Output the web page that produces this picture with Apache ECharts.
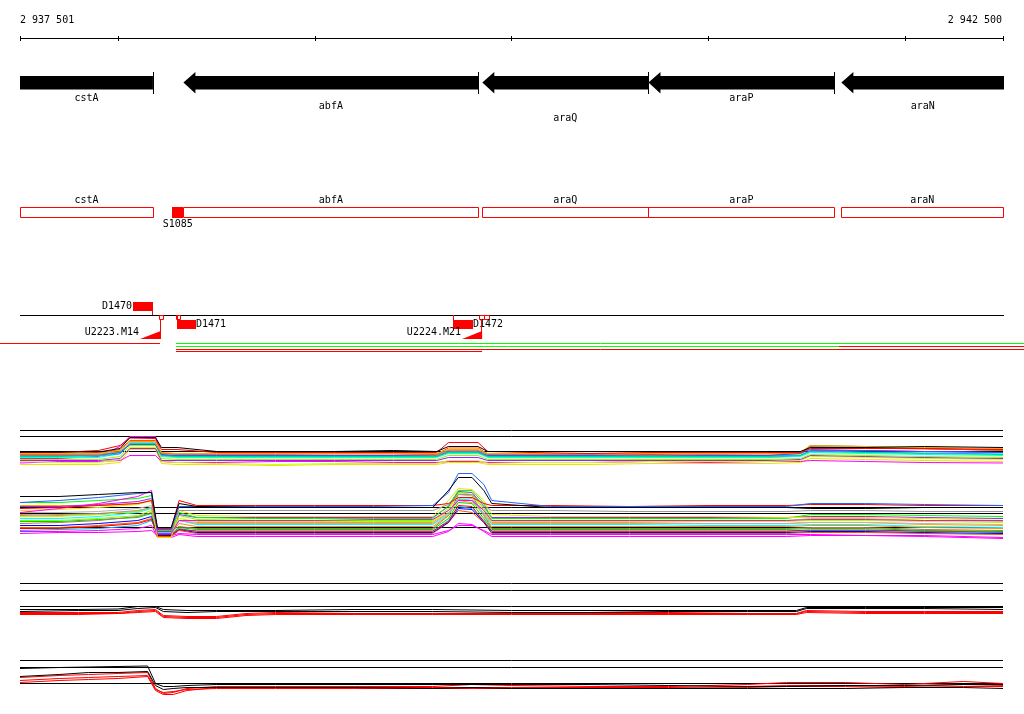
<!DOCTYPE html>
<html><head><meta charset="utf-8">
<script src="https://cdn.jsdelivr.net/npm/echarts@6/dist/echarts.min.js"></script>
<style>html,body{margin:0;padding:0;background:#fff}#c{width:1024px;height:714px}</style>
</head><body><div id="c"></div><script>
// ---------- data ----------
const X_START = 2937501, X_END = 2942500;
const rulerTicks = [2937501, 2938000, 2939000, 2940000, 2941000, 2942000, 2942500];
const rulerLabels = ['2 937 501', '2 942 500'];

const geneNames  = ['cstA', 'abfA', 'araQ', 'araP', 'araN'];
const geneStarts = [2936800, 2938332, 2939852, 2940697, 2941678];
const geneEnds   = [2938177, 2939832, 2940696, 2941642, 2943300];
const geneLabelLane = [0, 1, 2, 0, 1];

const siteNames  = ['S1085'];
const siteStarts = [2938274];
const siteEnds   = [2938332];

const featNames  = ['D1470', 'D1471', 'D1472'];
const featStarts = [2938076, 2938299, 2939705];
const featEnds   = [2938177, 2938398, 2939806];
const featSide   = ['up', 'down', 'down'];

const termNames  = ['U2223.M14', 'U2224.M21'];
const termStarts = [2938111, 2939749];
const termEnds   = [2938217, 2939851];

const probeStarts = [2938209, 2938294, 2939837, 2939861];
const probeEnds   = [2938230, 2938316, 2939861, 2939885];

const tuStarts = [2937380, 2938294, 2938294, 2941666, 2938294, 2938294];
const tuEnds   = [2938213, 2942650, 2941666, 2942650, 2942650, 2939851];
const tuRow    = [0, 0, 1, 1, 2, 3];
const tuKind   = ['r', 'g', 'g', 'r', 'r', 'r'];

// expression panel A
const posA = [2937501, 2937700, 2937900, 2938010, 2938060, 2938190, 2938220, 2938300, 2938500, 2938800, 2939100, 2939400, 2939620, 2939680, 2939830, 2939880, 2940100, 2940400, 2940700, 2941000, 2941300, 2941470, 2941520, 2941800, 2942100, 2942500];
const refA = [9.0, 7.8, 4.8];
const A1 = [4.7,4.7,4.7,5.4,7.6,7.6,5.6,5.6,4.8,4.8,4.8,5.0,4.8,5.8,5.8,4.8,4.8,4.8,4.8,4.8,4.8,4.8,5.6,5.6,5.8,5.6];
const A2 = [4.6,4.6,5.0,6.0,7.5,7.4,5.2,5.2,4.6,4.6,4.6,4.6,4.6,6.6,6.6,4.8,4.6,4.4,4.6,4.6,4.6,4.6,5.4,5.4,5.4,5.2];
const A3 = [3.4,3.4,3.8,5.8,7.8,7.8,4.0,3.8,3.6,3.6,3.8,3.8,3.8,4.6,4.6,3.8,3.6,3.6,3.6,3.6,3.6,4.0,5.0,5.0,4.8,4.6];
const A4 = [2.5,2.8,2.8,3.0,4.0,4.0,2.8,2.6,2.6,2.8,2.8,2.6,2.6,2.8,2.8,2.6,2.6,2.6,2.8,2.6,2.8,2.8,3.0,2.8,2.6,2.5];
const A5 = [4.4,4.4,4.4,5.0,6.8,6.8,4.6,4.4,4.4,4.4,4.4,4.4,4.4,5.2,5.2,4.4,4.4,4.4,4.4,4.4,4.4,4.6,6.0,5.8,5.6,5.4];
const A6 = [4.2,4.2,4.2,4.8,6.4,6.4,4.4,4.2,4.2,4.2,4.4,4.4,4.2,5.0,5.0,4.2,4.2,4.2,4.4,4.2,4.4,4.6,5.8,5.6,5.4,5.0];
const A7 = [4.6,4.4,4.2,4.6,6.2,6.2,4.2,4.0,4.0,4.0,4.0,4.0,4.2,5.0,5.0,4.0,4.0,4.0,4.2,4.0,4.0,4.4,5.2,5.0,4.8,4.6];
const A8 = [3.6,3.6,3.6,4.4,6.6,6.6,3.8,3.6,3.6,3.6,3.6,3.6,3.6,4.4,4.4,3.6,3.6,3.6,3.6,3.6,3.6,3.8,4.6,4.4,4.2,4.0];
const A9 = [3.8,3.8,4.0,4.6,6.4,6.2,4.0,3.8,3.8,3.8,3.8,3.8,3.8,4.6,4.6,3.8,3.8,3.8,3.8,3.8,3.8,4.0,4.8,4.6,4.4,4.2];
const A10 = [2.8,2.6,2.6,3.2,5.6,5.6,2.8,2.6,2.4,2.2,2.4,2.4,2.4,3.0,3.0,2.4,2.6,2.6,2.8,2.8,2.8,3.0,3.8,3.6,3.4,3.2];
const A11 = [3.2,3.2,3.2,3.8,6.0,6.0,3.4,3.2,3.2,3.2,3.2,3.2,3.2,4.0,4.0,3.2,3.2,3.2,3.2,3.2,3.2,3.4,4.2,4.0,3.8,3.6];
const A12 = [4.0,4.0,4.0,4.6,6.2,6.2,4.2,4.0,4.0,4.0,4.0,4.0,4.0,4.8,4.8,4.0,4.0,4.0,4.0,4.0,4.0,4.4,6.0,5.8,5.4,5.0];
const A13 = [2.2,2.2,2.2,2.6,5.2,5.2,2.4,2.2,2.2,2.0,2.2,2.2,2.2,2.6,2.6,2.2,2.2,2.2,2.4,2.4,2.4,2.6,3.4,3.2,3.0,2.8];
const A14 = [3.0,3.0,3.0,3.4,5.4,5.4,3.0,3.0,3.0,3.0,3.0,3.0,3.0,3.6,3.6,3.0,3.0,3.0,3.0,3.0,3.0,3.2,4.0,3.8,3.6,3.4];
const A15 = [3.9,3.9,3.9,4.3,6.3,6.3,4.1,3.9,3.9,3.9,3.9,3.9,3.9,4.7,4.7,3.9,3.9,3.9,3.9,3.9,3.9,4.1,4.9,4.7,4.5,4.3];
const A16 = [4.3,4.3,4.5,5.2,7.0,7.0,4.5,4.3,4.3,4.3,4.3,4.3,4.3,5.5,5.5,4.3,4.3,4.3,4.3,4.3,4.3,4.5,5.7,5.5,5.3,5.1];

// expression panel B
const posB = [2937501, 2937700, 2937900, 2938100, 2938170, 2938200, 2938270, 2938310, 2938400, 2938700, 2939000, 2939300, 2939600, 2939680, 2939730, 2939800, 2939860, 2939900, 2940200, 2940600, 2941000, 2941400, 2941520, 2941800, 2942100, 2942500];
const refB = [7.6, 6.4, 3.6];
const B1 = [9.8,9.8,10.2,10.6,10.6,3.6,3.6,8.4,7.8,7.6,7.6,7.6,7.6,11.0,13.6,13.6,11.0,8.4,7.6,7.6,7.6,7.6,7.4,7.4,7.6,7.6];
const B2 = [8.6,9.0,9.6,10.4,10.6,3.2,3.2,7.8,7.8,7.8,7.8,7.8,8.0,10.6,14.4,14.4,12.2,9.0,7.8,7.8,7.8,7.8,8.4,8.4,8.2,8.0];
const B3 = [7.4,7.6,8.0,8.4,9.0,3.4,3.4,9.0,8.0,8.0,8.0,8.0,8.0,8.4,9.6,9.6,8.4,8.0,8.0,7.8,8.0,8.0,8.2,8.2,8.0,8.0];
const B4 = [6.6,7.4,8.4,9.8,11.0,2.4,2.4,5.0,5.0,5.0,5.0,5.2,5.2,7.0,9.0,9.0,7.0,5.0,5.0,5.0,5.0,5.0,5.2,5.2,5.0,5.0];
const B5 = [2.4,2.6,2.6,2.8,3.0,2.0,2.0,2.4,2.2,2.2,2.2,2.2,2.2,3.0,4.0,4.0,3.0,2.2,2.2,2.2,2.2,2.2,2.2,2.0,2.0,1.6];
const B6 = [8.6,8.6,9.0,9.4,10.0,3.0,3.0,6.6,5.6,5.4,5.4,5.4,5.4,8.0,11.0,11.0,8.4,5.4,5.4,5.4,5.4,5.4,6.2,6.2,6.0,5.8];
const B7 = [7.0,7.2,7.6,8.2,9.0,1.6,1.6,7.0,6.0,5.8,5.8,5.8,5.8,9.0,11.4,11.2,9.0,6.2,5.8,5.8,5.8,5.6,5.6,5.6,5.4,5.0];
const B8 = [8.0,8.0,8.0,8.4,9.0,2.8,2.8,5.0,4.6,4.6,4.6,4.6,4.6,6.6,9.0,8.6,6.6,4.6,4.6,4.6,4.4,4.4,4.6,4.6,4.2,4.0];
const B9 = [6.0,6.2,6.4,7.0,7.6,3.2,3.2,7.0,7.0,7.0,7.0,7.0,7.0,8.2,10.2,10.2,8.0,7.0,7.0,6.8,6.8,6.8,7.0,7.0,6.8,6.8];
const B10 = [5.4,5.4,5.8,6.6,7.4,2.6,2.6,5.0,4.2,4.2,4.2,4.2,4.2,6.2,9.4,9.0,6.2,4.2,4.2,4.2,4.0,4.0,4.2,4.2,3.8,3.6];
const B11 = [4.4,4.6,5.0,5.8,6.6,3.0,3.0,3.8,3.4,3.4,3.4,3.4,3.4,6.0,10.2,10.0,6.0,3.4,3.4,3.4,3.4,3.4,3.6,3.6,3.2,3.0];
const B12 = [5.0,5.0,5.4,6.0,7.0,2.4,2.4,6.0,5.2,5.0,5.0,5.0,5.0,7.4,10.6,10.2,7.4,5.0,5.0,5.0,5.0,5.0,5.4,5.4,5.0,4.8];
const B13 = [3.0,3.2,3.4,4.0,5.0,2.2,2.2,3.4,2.8,2.8,2.8,2.8,2.8,5.0,7.8,7.4,5.0,2.8,2.8,2.8,2.8,2.8,3.0,3.0,2.8,2.6];
const B14 = [3.6,3.6,4.0,4.6,5.4,1.8,1.8,3.0,2.4,2.4,2.4,2.4,2.4,4.6,7.0,6.6,4.6,2.4,2.4,2.4,2.4,2.4,2.6,2.6,2.4,2.2];
const B15 = [7.8,7.8,8.2,8.8,9.4,2.8,2.8,6.2,5.6,5.6,5.6,5.6,5.6,7.8,10.8,10.6,7.8,5.6,5.6,5.6,5.6,5.6,5.8,5.8,5.6,5.4];
const B16 = [6.2,6.0,6.2,6.8,7.6,2.6,2.6,4.4,3.8,3.8,3.8,3.8,3.8,6.0,9.2,9.0,6.0,3.8,3.8,3.8,3.8,3.8,4.0,4.0,3.6,3.4];
const B17 = [4.8,4.8,5.2,5.6,6.4,2.4,2.4,3.6,3.2,3.2,3.2,3.2,3.2,5.4,8.6,8.4,5.4,3.2,3.2,3.2,3.2,3.2,3.4,3.4,3.0,2.8];
const B18 = [4.0,4.0,4.4,5.0,5.8,2.0,2.0,3.2,2.6,2.6,2.6,2.6,2.6,4.6,7.4,7.2,4.6,2.6,2.6,2.6,2.6,2.6,2.8,2.8,2.6,2.4];
const B19 = [6.6,6.6,6.8,7.4,8.0,3.0,3.0,5.0,4.4,4.4,4.4,4.4,4.4,6.4,9.6,9.4,6.4,4.4,4.4,4.4,4.4,4.4,4.6,4.6,4.4,4.2];
const B20 = [5.8,5.8,6.2,6.8,7.6,2.8,2.8,5.4,4.8,4.8,4.8,4.8,4.8,7.0,10.4,10.0,7.0,4.8,4.8,4.8,4.8,4.8,5.0,5.0,4.8,4.6];
const B21 = [2.8,2.8,3.0,3.4,4.0,1.6,1.6,2.2,1.8,1.8,1.8,1.8,1.8,2.8,4.4,4.2,2.8,1.8,1.8,1.8,1.8,1.8,2.0,2.0,1.8,1.4];
const B22 = [3.4,3.4,3.8,4.4,5.2,2.2,2.2,3.2,2.9,2.9,2.9,2.9,2.9,4.8,8.0,7.8,4.8,2.9,2.9,2.9,2.9,2.9,3.1,3.1,2.9,2.7];

// expression panel C
const posC = [2937501, 2937800, 2938000, 2938100, 2938190, 2938230, 2938350, 2938500, 2938650, 2938800, 2939200, 2939600, 2940000, 2940400, 2940800, 2941200, 2941450, 2941500, 2941800, 2942100, 2942500];
const refC = [8.4, 7.0, 3.8];
const C1 = [3.2,3.2,3.3,3.8,3.8,3.2,3.0,3.0,3.0,3.0,3.2,3.2,3.0,3.0,3.0,3.0,3.0,3.6,3.6,3.6,3.6];
const C2 = [2.8,3.0,3.0,3.4,3.6,2.8,2.6,2.8,2.8,2.8,2.8,2.8,2.6,2.6,2.8,2.8,2.8,3.4,3.4,3.4,3.2];
const C3 = [2.6,2.6,2.6,3.0,3.2,2.0,1.8,1.8,2.4,2.6,2.4,2.4,2.4,2.6,2.6,2.4,2.4,3.0,2.8,2.8,2.8];
const C4 = [2.2,2.2,2.4,2.6,2.8,1.6,1.4,1.4,2.0,2.2,2.2,2.2,2.2,2.2,2.2,2.2,2.2,2.6,2.4,2.4,2.4];
const C5 = [2.4,2.4,2.4,2.8,3.0,1.8,1.6,1.6,2.2,2.4,2.4,2.4,2.4,2.4,2.4,2.4,2.4,2.8,2.6,2.6,2.6];

// expression panel D
const posD = [2937501, 2937700, 2937850, 2938000, 2938150, 2938190, 2938230, 2938280, 2938350, 2938500, 2938800, 2939200, 2939600, 2939800, 2940000, 2940400, 2940800, 2941200, 2941400, 2941700, 2942000, 2942300, 2942500];
const refD = [8.0, 6.6, 3.4];
const D1 = [6.4,6.6,6.7,6.8,6.9,3.4,2.8,2.8,3.0,3.2,3.2,3.2,3.2,3.2,3.2,3.2,3.0,2.8,2.8,3.0,3.0,3.2,3.2];
const D2 = [4.8,5.2,5.6,5.6,5.8,3.0,2.2,2.4,2.6,2.6,2.6,2.6,2.4,2.6,2.4,2.4,2.4,2.4,2.4,2.4,2.6,2.6,2.4];
const D3 = [4.6,5.0,5.2,5.4,5.6,2.4,1.4,1.6,2.4,2.8,2.8,2.8,2.8,3.2,3.0,2.8,2.8,3.2,3.6,3.6,3.2,3.8,3.4];
const D4 = [3.6,4.0,4.2,4.4,4.8,2.0,1.2,1.2,2.0,2.6,2.6,2.6,2.6,2.6,2.6,2.6,2.6,2.8,3.0,3.0,2.8,3.2,3.0];
const D5 = [4.0,4.4,4.6,4.8,5.0,2.2,1.6,1.8,2.2,2.4,2.4,2.4,2.4,2.4,2.4,2.4,2.4,2.6,2.8,2.8,2.6,2.8,2.8];

// ---------- layout / style ----------
const BP_PER_PX = (X_END - X_START) / 983;
const AX_MIN = X_START - 20 * BP_PER_PX, AX_MAX = X_END + 21 * BP_PER_PX;
const FONT = '10px "DejaVu Sans Mono", monospace';
const RED = '#ff0000', GREEN = '#00ff00';
const C = {black:'#000000', red:'#ff0000', magenta:'#ff00ff', orange:'#ffa500', gray:'#999999', blue:'#1e64ff',
  cyan:'#00ffff', green:'#00ff00', yg:'#d2ff00', lime:'#7fff00', brown:'#a0785a', yellow:'#e6e600', sky:'#00b4ff',
  orred:'#ff5000', purple:'#a020f0', orange2:'#ff8c00', green2:'#00d200', blue2:'#0000ff', gray2:'#b4b4b4', lime2:'#b0ff00'};

function X(api, bp) { return api.coord([bp, 0])[0]; }
function crisp(v) { return Math.round(v) + 0.5; }
function txt(text, x, y, align) {
  return {type:'text', x:x, y:y, style:{text:text, font:FONT, fill:'#000', align:align || 'center', verticalAlign:'middle'}};
}
function hline(x1, x2, y, color) {
  return {type:'line', shape:{x1:x1, y1:y, x2:x2, y2:y}, style:{stroke:color, lineWidth:1}};
}
function vline(x, y1, y2, color) {
  return {type:'line', shape:{x1:x, y1:y1, x2:x, y2:y2}, style:{stroke:color, lineWidth:1}};
}
function custom(data, renderItem) {
  return {type:'custom', xAxisIndex:0, yAxisIndex:0, data:data, encode:{x:[0,1], y:2}, clip:false, silent:true, renderItem:renderItem};
}

const series = [];

// ruler
series.push(custom([[X_START, X_END, 0]], function (p, api) {
  const L = X(api, X_START), R = X(api, X_END);
  const ch = [hline(L, R + 1, 38.5, '#000')];
  rulerTicks.forEach(t => { const x = crisp(X(api, t)); ch.push(vline(Math.min(x, crisp(R)), 36, 41, '#000')); });
  ch.push(txt(rulerLabels[0], L, 20, 'left'));
  ch.push(txt(rulerLabels[1], R - 1, 20, 'right'));
  return {type:'group', children:ch};
}));

// gene arrows + labels
const laneY = [98.5, 106.5, 118];
series.push(custom(geneNames.map((n, i) => [geneStarts[i], geneEnds[i], i]), function (p, api) {
  const i = api.value(2);
  const L = X(api, X_START), R = X(api, X_END) + 1;
  const s = X(api, api.value(0)), e = X(api, api.value(1));
  const head = 12, ch = [];
  const eb = Math.min(e, R);
  if (s >= L) {
    ch.push({type:'polygon', shape:{points:[[s, 82.5], [s + head, 72], [s + head, 76], [eb, 76], [eb, 89.5], [s + head, 89.5], [s + head, 93.5]]}, style:{fill:'#000'}});
  } else {
    ch.push({type:'rect', shape:{x:L, y:76, width:eb - L, height:13.5}, style:{fill:'#000'}});
  }
  if (e <= R) ch.push(vline(crisp(e), 72, 94, '#000'));
  const cx = (Math.max(s, L) + Math.min(e, R)) / 2;
  ch.push(txt(geneNames[i], cx, laneY[geneLabelLane[i]]));
  return {type:'group', children:ch};
}));

// gene boxes (red outline) + labels
series.push(custom(geneNames.map((n, i) => [geneStarts[i], geneEnds[i], i]), function (p, api) {
  const i = api.value(2);
  const L = X(api, X_START), R = X(api, X_END);
  const s = Math.max(X(api, api.value(0)), L), e = Math.min(X(api, api.value(1)), R);
  const x1 = crisp(s), x2 = crisp(e);
  return {type:'group', children:[
    {type:'rect', shape:{x:x1, y:207.5, width:x2 - x1, height:10}, style:{fill:'none', stroke:RED, lineWidth:1}},
    txt(geneNames[i], (s + e) / 2, 200)
  ]};
}));

// sites (filled)
series.push(custom(siteNames.map((n, i) => [siteStarts[i], siteEnds[i], i]), function (p, api) {
  const i = api.value(2);
  const s = X(api, api.value(0)), e = X(api, api.value(1));
  return {type:'group', children:[
    {type:'rect', shape:{x:Math.round(s), y:207, width:Math.round(e) - Math.round(s), height:11}, style:{fill:RED}},
    txt(siteNames[i], (s + e) / 2, 224.5)
  ]};
}));

// track baseline
series.push(custom([[X_START, X_END, 0]], function (p, api) {
  return hline(X(api, X_START), X(api, X_END) + 1, 315.5, '#000');
}));

// probes (small open squares)
series.push(custom(probeStarts.map((s, i) => [s, probeEnds[i], i]), function (p, api) {
  const s = crisp(X(api, api.value(0))), e = crisp(X(api, api.value(1)));
  return {type:'rect', shape:{x:s, y:315.5, width:e - s, height:4}, style:{fill:'none', stroke:RED, lineWidth:1}};
}));

// features D14xx
series.push(custom(featNames.map((n, i) => [featStarts[i], featEnds[i], i]), function (p, api) {
  const i = api.value(2);
  const s = X(api, api.value(0)), e = X(api, api.value(1));
  const xs = Math.round(s), xe = Math.round(e);
  const ch = [];
  if (featSide[i] === 'up') {
    ch.push({type:'rect', shape:{x:xs, y:302, width:xe - xs, height:9}, style:{fill:RED}});
    ch.push(vline(crisp(e) - 1, 311, 315, RED));
    ch.push(txt(featNames[i], xs - 1, 306.5, 'right'));
  } else {
    ch.push({type:'rect', shape:{x:xs, y:320, width:xe - xs, height:9}, style:{fill:RED}});
    ch.push(vline(crisp(s), 315, 320, RED));
    ch.push(txt(featNames[i], xe, 324.5, 'left'));
  }
  return {type:'group', children:ch};
}));

// terminators (stepped triangles)
series.push(custom(termNames.map((n, i) => [termStarts[i], termEnds[i], i]), function (p, api) {
  const i = api.value(2);
  const s = X(api, api.value(0)), e = X(api, api.value(1));
  return {type:'group', children:[
    {type:'polygon', shape:{points:[[s, 339], [e, 339], [e, 331]]}, style:{fill:RED}},
    vline(crisp(e) - 1, 319, 339, RED),
    txt(termNames[i], s - 1, 332.5, 'right')
  ]};
}));

// transcription units
const tuY = [343.5, 346.5, 349.5, 351.5];
series.push(custom(tuStarts.map((s, i) => [s, tuEnds[i], i]), function (p, api) {
  const i = api.value(2);
  return hline(X(api, api.value(0)), X(api, api.value(1)), tuY[tuRow[i]], tuKind[i] === 'g' ? GREEN : RED);
}));

// expression panels
function refSeries(refs, gi) {
  return refs.map(r => ({type:'line', xAxisIndex:gi, yAxisIndex:gi, data:[[X_START, r], [X_END, r]],
    showSymbol:false, silent:true, lineStyle:{color:'#000', width:1}, z:1}));
}
function lineSeries(pos, vals, color, gi) {
  return {type:'line', xAxisIndex:gi, yAxisIndex:gi, data:pos.map((x, k) => [x, vals[k]]),
    showSymbol:false, silent:true, lineStyle:{color:color, width:1}, z:2};
}
series.push(...refSeries(refA, 1));
[[A13, C.yellow], [A4, C.magenta], [A10, C.yg], [A14, C.purple], [A11, C.lime], [A3, C.magenta], [A8, C.cyan],
 [A9, C.green], [A15, C.sky], [A12, C.brown], [A7, C.blue], [A6, C.gray], [A16, C.orred], [A5, C.orange],
 [A2, C.red], [A1, C.black]].forEach(([v, c]) => series.push(lineSeries(posA, v, c, 1)));

series.push(...refSeries(refB, 2));
[[B21, C.magenta], [B5, C.magenta], [B14, C.orred], [B18, C.blue2], [B13, C.sky], [B22, C.red], [B17, C.green2],
 [B11, C.brown], [B16, C.orange2], [B10, C.cyan], [B8, C.orange], [B19, C.gray2], [B20, C.lime2], [B12, C.lime],
 [B15, C.purple], [B6, C.green], [B7, C.yellow], [B9, C.gray], [B4, C.magenta], [B3, C.red], [B2, C.blue],
 [B1, C.black]].forEach(([v, c]) => series.push(lineSeries(posB, v, c, 2)));

series.push(...refSeries(refC, 3));
[[C4, C.red], [C5, C.red], [C3, C.red], [C2, C.black], [C1, C.black]].forEach(([v, c]) => series.push(lineSeries(posC, v, c, 3)));

series.push(...refSeries(refD, 4));
[[D4, C.red], [D5, C.red], [D3, C.red], [D2, C.black], [D1, C.black]].forEach(([v, c]) => series.push(lineSeries(posD, v, c, 4)));

const panelGrids = [[425.5, 50, 10], [465.5, 80, 16], [575.5, 50, 10], [650.5, 50, 10]];
const option = {
  animation:false,
  backgroundColor:'#ffffff',
  grid:[{left:0, right:0, top:0, bottom:0}].concat(panelGrids.map(g => ({left:20, width:983, top:g[0], height:g[1]}))),
  xAxis:[{gridIndex:0, type:'value', min:AX_MIN, max:AX_MAX, show:false}].concat(panelGrids.map((g, k) => ({gridIndex:k + 1, type:'value', min:X_START, max:X_END, show:false}))),
  yAxis:[{gridIndex:0, type:'value', min:0, max:1, show:false}].concat(panelGrids.map((g, k) => ({gridIndex:k + 1, type:'value', min:0, max:g[2], show:false}))),
  series:series
};
const chart = echarts.init(document.getElementById('c'));
chart.setOption(option);
</script></body></html>
